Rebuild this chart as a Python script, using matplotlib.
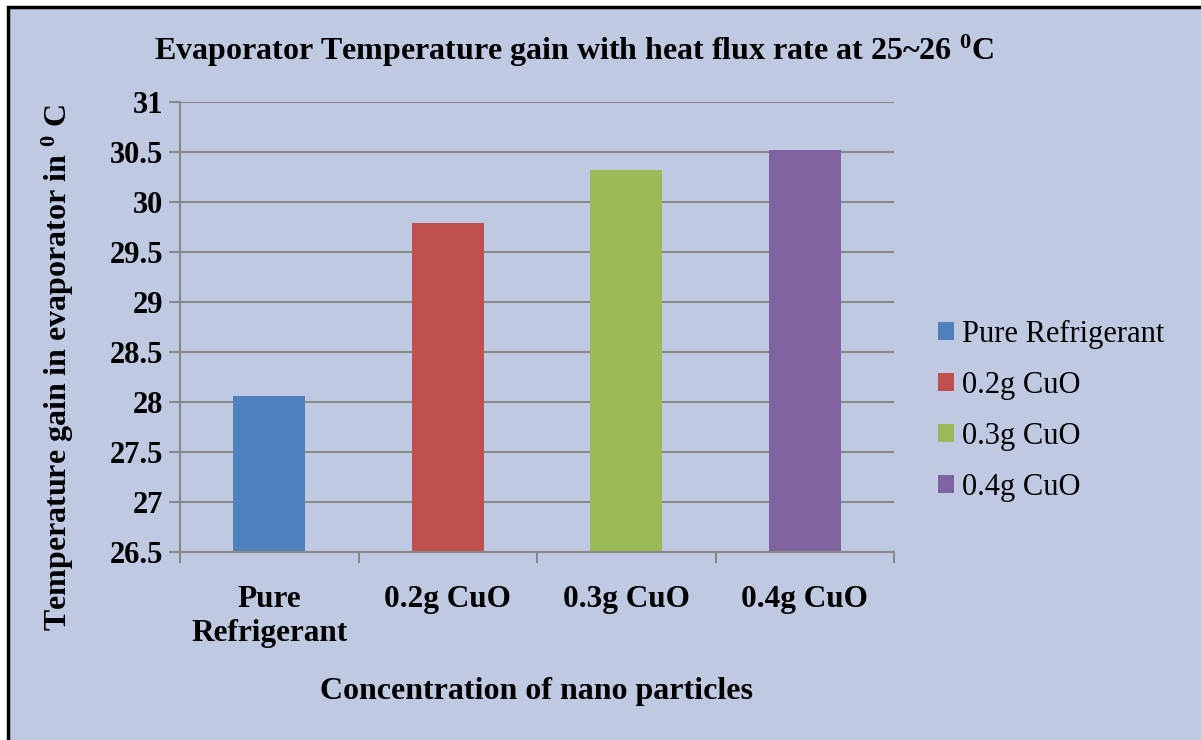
import matplotlib
matplotlib.use("Agg")
import matplotlib.pyplot as plt
from matplotlib.patches import Rectangle

categories = ["Pure\nRefrigerant", "0.2g CuO", "0.3g CuO", "0.4g CuO"]
series = ["Pure Refrigerant", "0.2g CuO", "0.3g CuO", "0.4g CuO"]
values = [28.06, 29.79, 30.32, 30.52]
colors = ["#4F81BD", "#C0504D", "#9BBB59", "#8064A2"]
yticks = [26.5, 27, 27.5, 28, 28.5, 29, 29.5, 30, 30.5, 31]

plt.rcParams["font.family"] = "Liberation Serif"
plt.rcParams["mathtext.fontset"] = "custom"
plt.rcParams["mathtext.rm"] = "Liberation Serif"
plt.rcParams["mathtext.bf"] = "Liberation Serif:bold"

bg = "#BFC9E1"
W, H = 1201, 740
fig = plt.figure(figsize=(W / 100, H / 100), dpi=100)
fig.patch.set_facecolor("white")

# chart area frame (right/bottom edges fall outside the picture)
frame = Rectangle((7.5 / W, -0.05), 1.1, 1 - 7.5 / H + 0.05,
                  transform=fig.transFigure, facecolor=bg,
                  edgecolor="black", linewidth=2.5, zorder=-10)
fig.patches.append(frame)

ax = fig.add_axes([180 / W, 1 - 552 / H, (894 - 180) / W, (552 - 102) / H])
ax.set_zorder(1)
ax.set_facecolor("none")

x = range(len(values))
for i in x:
    ax.bar(i, values[i] - 26.5, bottom=26.5, width=0.405, color=colors[i],
           label=series[i], zorder=3)

ax.set_xlim(-0.5, 3.5)
ax.set_ylim(26.5, 31)
ax.set_yticks(yticks)
ax.set_yticklabels([f"{t:g}" for t in yticks], fontsize=22, fontweight="bold")
ax.set_xticks(list(x))
ax.set_xticklabels(categories, fontsize=22.5, fontweight="bold", linespacing=1.2)
ax.set_xticks([-0.5, 0.5, 1.5, 2.5, 3.5], minor=True)
ax.tick_params(axis="x", which="major", length=0, pad=24)
ax.tick_params(axis="x", which="minor", length=8, color="#898989", width=1.5)
ax.tick_params(axis="y", length=8, color="#898989", width=1.5, pad=4)

ax.grid(axis="y", color="#898989", linewidth=1.5, zorder=1)
for s in ["top", "right"]:
    ax.spines[s].set_visible(False)
for s in ["left", "bottom"]:
    ax.spines[s].set_color("#898989")
    ax.spines[s].set_linewidth(1.5)
    ax.spines[s].set_zorder(4)

ax.set_xlabel("Concentration of nano particles", fontsize=23,
              fontweight="bold")
ax.xaxis.set_label_coords((536 - 180) / 714, -(692 - 552) / 450)
ax.set_ylabel(r"Temperature gain in evaporator in $\mathbf{^{0}}$ C",
              fontsize=23, fontweight="bold")
ax.yaxis.set_label_coords(-(180 - 58) / 714, (552 - 367) / 450)
ax.yaxis.label.set_va("center")
ax.xaxis.label.set_va("center")

fig.text(574 / W, 1 - 51 / H,
         r"Evaporator Temperature gain with heat flux rate at 25~26 $\mathbf{^{0}}$C",
         fontsize=23, fontweight="bold", ha="center", va="center")

ax.legend(loc="center left", bbox_to_anchor=(910 / W, 1 - 411 / H),
          bbox_transform=fig.transFigure, frameon=False, fontsize=22,
          handlelength=0.55, handleheight=0.55, handletextpad=0.25,
          labelspacing=0.72)

fig.savefig("out.png", dpi=100)
